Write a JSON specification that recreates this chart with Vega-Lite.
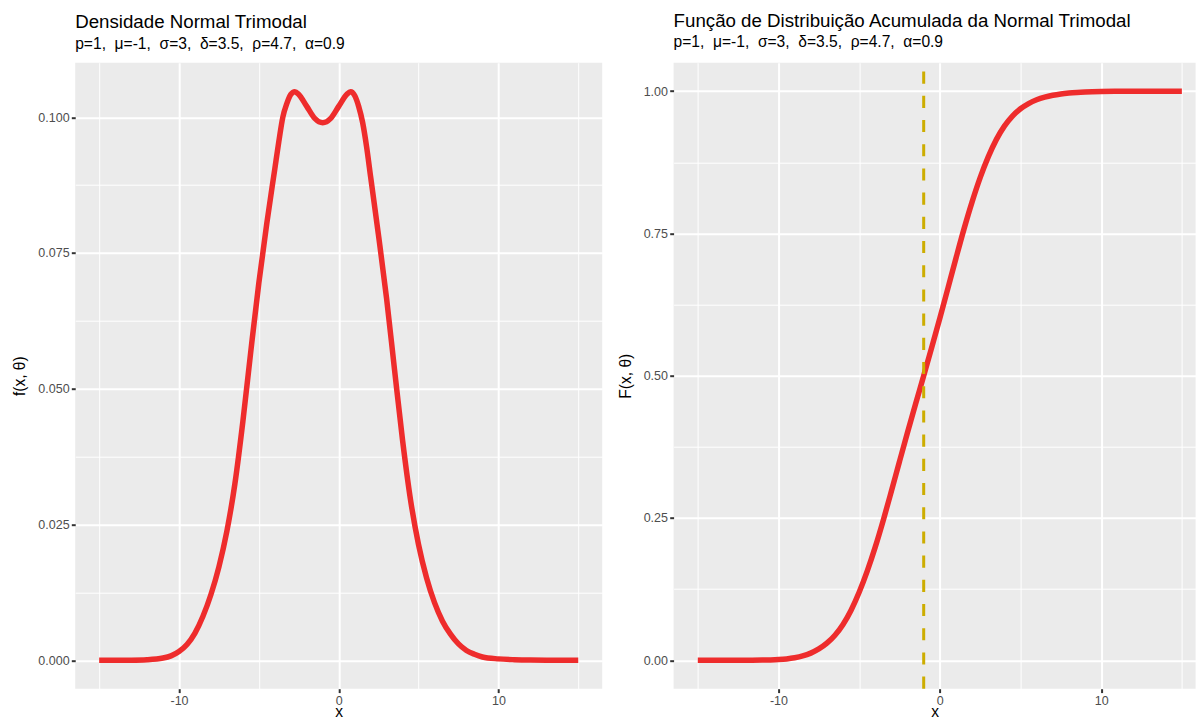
{
  "$schema": "https://vega.github.io/schema/vega-lite/v6.json",
  "background": "white",
  "padding": {"left": 11.2, "top": 11.7, "right": 0, "bottom": 0},
  "spacing": 15.4,
  "config": {
    "view": {"fill": "#EBEBEB", "stroke": null},
    "font": "Liberation Sans",
    "axis": {
      "domain": false,
      "grid": true,
      "gridColor": "#FFFFFF",
      "tickColor": "#333333",
      "tickSize": 3.9,
      "tickWidth": 2,
      "labelColor": "#4D4D4D",
      "labelFont": "Liberation Sans",
      "labelFontSize": 12.5,
      "labelPadding": 2.2,
      "titleColor": "#000000",
      "titleFont": "Liberation Sans",
      "titleFontSize": 15.6,
      "titleFontWeight": "normal"
    },
    "title": {
      "anchor": "start",
      "frame": "group",
      "font": "Liberation Sans",
      "fontSize": 18.7,
      "fontWeight": "normal",
      "color": "#000000",
      "subtitleFont": "Liberation Sans",
      "subtitleFontSize": 15.6,
      "subtitleColor": "#000000",
      "subtitlePadding": 4.8,
      "offset": 10.2
    }
  },
  "datasets": {
    "dens": [
      {"x": -15, "f": 0.0},
      {"x": -14, "f": 0.000005},
      {"x": -13, "f": 0.00002},
      {"x": -12, "f": 0.0001},
      {"x": -11, "f": 0.0004},
      {"x": -10.5, "f": 0.0008},
      {"x": -10, "f": 0.0016},
      {"x": -9.5, "f": 0.0029},
      {"x": -9, "f": 0.005},
      {"x": -8.5, "f": 0.0081},
      {"x": -8, "f": 0.0121},
      {"x": -7.5, "f": 0.0172},
      {"x": -7, "f": 0.0238},
      {"x": -6.5, "f": 0.0325},
      {"x": -6, "f": 0.044},
      {"x": -5.5, "f": 0.057},
      {"x": -5, "f": 0.0695},
      {"x": -4.5, "f": 0.0805},
      {"x": -4, "f": 0.0905},
      {"x": -3.75, "f": 0.0955},
      {"x": -3.5, "f": 0.1},
      {"x": -3.25, "f": 0.1025},
      {"x": -3, "f": 0.1042},
      {"x": -2.75, "f": 0.1047},
      {"x": -2.5, "f": 0.1042},
      {"x": -2, "f": 0.102},
      {"x": -1.5, "f": 0.0998},
      {"x": -1, "f": 0.099},
      {"x": -0.5, "f": 0.0998},
      {"x": 0, "f": 0.102},
      {"x": 0.5, "f": 0.1042},
      {"x": 0.75, "f": 0.1047},
      {"x": 1, "f": 0.104},
      {"x": 1.25, "f": 0.102},
      {"x": 1.5, "f": 0.099},
      {"x": 1.75, "f": 0.0945},
      {"x": 2, "f": 0.089},
      {"x": 2.5, "f": 0.0781},
      {"x": 3, "f": 0.0666},
      {"x": 3.5, "f": 0.0534},
      {"x": 4, "f": 0.0405},
      {"x": 4.5, "f": 0.0295},
      {"x": 5, "f": 0.0213},
      {"x": 5.5, "f": 0.0152},
      {"x": 6, "f": 0.0106},
      {"x": 6.5, "f": 0.0072},
      {"x": 7, "f": 0.0048},
      {"x": 7.5, "f": 0.003},
      {"x": 8, "f": 0.0018},
      {"x": 8.5, "f": 0.0011},
      {"x": 9, "f": 0.0006},
      {"x": 10, "f": 0.00025},
      {"x": 11, "f": 0.0001},
      {"x": 12, "f": 0.00003},
      {"x": 13, "f": 0.00001},
      {"x": 15, "f": 0.0}
    ],
    "cdf": [
      {"x": -15, "F": 0.0},
      {"x": -14, "F": 0.000003},
      {"x": -13, "F": 0.00001},
      {"x": -12, "F": 0.00004},
      {"x": -11, "F": 0.0003},
      {"x": -10.5, "F": 0.0006},
      {"x": -10, "F": 0.0012},
      {"x": -9.5, "F": 0.0023},
      {"x": -9, "F": 0.0043},
      {"x": -8.5, "F": 0.0075},
      {"x": -8, "F": 0.0125},
      {"x": -7.5, "F": 0.0198},
      {"x": -7, "F": 0.0299},
      {"x": -6.5, "F": 0.0439},
      {"x": -6, "F": 0.0629},
      {"x": -5.5, "F": 0.088},
      {"x": -5, "F": 0.1194},
      {"x": -4.5, "F": 0.1566},
      {"x": -4, "F": 0.1991},
      {"x": -3.5, "F": 0.2465},
      {"x": -3, "F": 0.2973},
      {"x": -2.5, "F": 0.3492},
      {"x": -2, "F": 0.4005},
      {"x": -1.5, "F": 0.4506},
      {"x": -1, "F": 0.5},
      {"x": -0.5, "F": 0.55},
      {"x": 0, "F": 0.601},
      {"x": 0.5, "F": 0.6535},
      {"x": 1, "F": 0.7065},
      {"x": 1.5, "F": 0.758},
      {"x": 2, "F": 0.8055},
      {"x": 2.5, "F": 0.848},
      {"x": 3, "F": 0.8845},
      {"x": 3.5, "F": 0.9148},
      {"x": 4, "F": 0.9385},
      {"x": 4.5, "F": 0.9562},
      {"x": 5, "F": 0.969},
      {"x": 5.5, "F": 0.9782},
      {"x": 6, "F": 0.9848},
      {"x": 6.5, "F": 0.9895},
      {"x": 7, "F": 0.9928},
      {"x": 7.5, "F": 0.9951},
      {"x": 8, "F": 0.9967},
      {"x": 8.5, "F": 0.9978},
      {"x": 9, "F": 0.9986},
      {"x": 10, "F": 0.9995},
      {"x": 11, "F": 0.9998},
      {"x": 12, "F": 0.9999},
      {"x": 13, "F": 1.0},
      {"x": 15, "F": 1.0}
    ],
    "vline": [
      {"x": -1}
    ]
  },
  "hconcat": [
    {
      "width": 527,
      "height": 626,
      "title": {"text": "Densidade Normal Trimodal", "subtitle": "p=1,\u00a0 μ=-1,\u00a0 σ=3,\u00a0 δ=3.5,\u00a0 ρ=4.7,\u00a0 α=0.9"},
      "data": {"name": "dens"},
      "mark": {"type": "line", "color": "#EE2C2C", "strokeWidth": 5.5, "interpolate": "monotone", "strokeCap": "butt", "strokeJoin": "round"},
      "encoding": {
        "x": {
          "field": "x", "type": "quantitative",
          "scale": {"domain": [-16.5, 16.5], "nice": false, "zero": false},
          "axis": {
            "title": "x",
            "values": [-15, -10, -5, 0, 5, 10, 15],
            "labelExpr": "datum.value % 10 === 0 ? toString(datum.value) : ''",
            "gridWidth": {"condition": {"test": "datum.value % 10 === 0", "value": 2}, "value": 1},
            "tickOpacity": {"condition": {"test": "datum.value % 10 === 0", "value": 1}, "value": 0},
            "titlePadding": -2.3
          }
        },
        "y": {
          "field": "f", "type": "quantitative",
          "scale": {"domain": [-0.00524, 0.11004], "nice": false, "zero": false},
          "axis": {
            "title": "f(x, θ)",
            "values": [0, 0.0125, 0.025, 0.0375, 0.05, 0.0625, 0.075, 0.0875, 0.1],
            "format": ".3f",
            "labelExpr": "abs(datum.value * 40 - round(datum.value * 40)) < 0.000001 ? datum.label : ''",
            "gridWidth": {"condition": {"test": "abs(datum.value * 40 - round(datum.value * 40)) < 0.000001", "value": 2}, "value": 1},
            "tickOpacity": {"condition": {"test": "abs(datum.value * 40 - round(datum.value * 40)) < 0.000001", "value": 1}, "value": 0},
            "minExtent": 37.5,
            "maxExtent": 37.5,
            "titlePadding": 10.7
          }
        }
      }
    },
    {
      "width": 522,
      "height": 626,
      "title": {"text": "Função de Distribuição Acumulada da Normal Trimodal", "subtitle": "p=1,\u00a0 μ=-1,\u00a0 σ=3,\u00a0 δ=3.5,\u00a0 ρ=4.7,\u00a0 α=0.9"},
      "layer": [
        {
          "data": {"name": "cdf"},
          "mark": {"type": "line", "color": "#EE2C2C", "strokeWidth": 5.5, "interpolate": "monotone", "strokeCap": "butt", "strokeJoin": "round"},
          "encoding": {
            "x": {
              "field": "x", "type": "quantitative",
              "scale": {"domain": [-16.5, 15.85], "nice": false, "zero": false},
              "axis": {
                "title": "x",
                "values": [-15, -10, -5, 0, 5, 10, 15],
                "labelExpr": "datum.value % 10 === 0 ? toString(datum.value) : ''",
                "gridWidth": {"condition": {"test": "datum.value % 10 === 0", "value": 2}, "value": 1},
                "tickOpacity": {"condition": {"test": "datum.value % 10 === 0", "value": 1}, "value": 0},
                "titlePadding": -2.3
              }
            },
            "y": {
              "field": "F", "type": "quantitative",
              "scale": {"domain": [-0.05, 1.05], "nice": false, "zero": false},
              "axis": {
                "title": "F(x, θ)",
                "values": [0, 0.125, 0.25, 0.375, 0.5, 0.625, 0.75, 0.875, 1],
                "format": ".2f",
                "labelExpr": "abs(datum.value * 4 - round(datum.value * 4)) < 0.000001 ? datum.label : ''",
                "gridWidth": {"condition": {"test": "abs(datum.value * 4 - round(datum.value * 4)) < 0.000001", "value": 2}, "value": 1},
                "tickOpacity": {"condition": {"test": "abs(datum.value * 4 - round(datum.value * 4)) < 0.000001", "value": 1}, "value": 0},
                "minExtent": 34,
                "maxExtent": 34,
                "titlePadding": 6.3
              }
            }
          }
        },
        {
          "data": {"name": "vline"},
          "mark": {"type": "rule", "color": "#CDAD00", "strokeWidth": 3, "strokeDash": [12.1, 12.1]},
          "encoding": {
            "x": {"field": "x", "type": "quantitative"},
            "y": {"datum": -0.05},
            "y2": {"datum": 1.05}
          }
        }
      ]
    }
  ]
}
